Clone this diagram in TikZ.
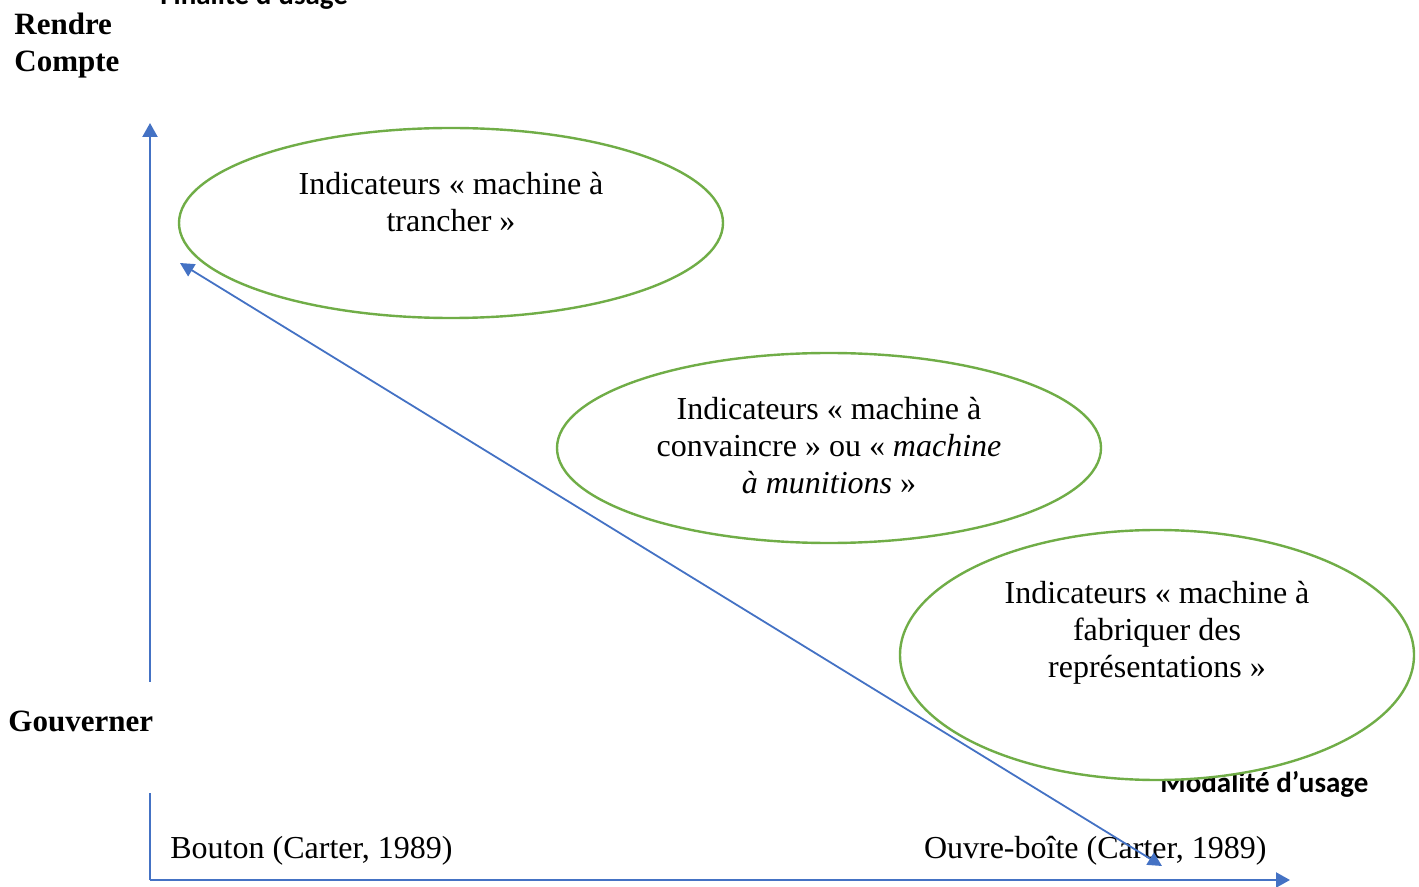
\documentclass[tikz,border=0pt]{standalone}
\usepackage{fontspec}
\setmainfont{Liberation Serif}
\newfontfamily\calibri{Carlito}
\usetikzlibrary{shapes.geometric, arrows.meta, positioning}
\definecolor{axeblue}{RGB}{68,114,196}
\definecolor{ovalgreen}{RGB}{112,173,71}
\tikzset{
  axe/.style={-{Triangle[length=7pt,width=7.5pt]}, line width=1.1pt, axeblue},
  diag/.style={{Triangle[length=7pt,width=7pt]}-{Triangle[length=7pt,width=7pt]}, line width=0.9pt, axeblue},
  oval/.style={ellipse, draw=ovalgreen, line width=1.2pt, fill=white, inner sep=0pt},
  ovaltext/.style={align=center, inner sep=0pt, font=\fontsize{16}{18.5}\selectfont},
  titre/.style={align=left, inner sep=0pt, font=\bfseries\fontsize{15.5}{18.5}\selectfont},
  axelabel/.style={inner sep=0pt, font=\calibri\bfseries\fontsize{14.5}{17}\selectfont},
  source/.style={inner sep=0pt, font=\fontsize{16}{18.5}\selectfont}
}

\begin{document}
\begin{tikzpicture}[x=0.5pt, y=-0.5pt]
\useasboundingbox (0,0) rectangle (1419,887);
\clip (0,0) rectangle (1419,887);

% axes
\coordinate (origine) at (150,880);
\coordinate (haut) at (150,123);
\coordinate (droite) at (1290,880);
\draw[axe] (origine) -- (haut);
\draw[axe] (origine) -- (droite);

% axis labels
\node[titre, anchor=base west] (rendre) at (14,72) {Rendre\\Compte};
\node[axelabel, anchor=base west] (finalite) at (160,5) {Finalité d’usage};
\node[titre, anchor=base west, fill=white, inner xsep=4pt, text height=24.5pt, text depth=31pt] (gouverner) at (0,731) {Gouverner};
\node[axelabel, anchor=base west] (modalite) at (1160,792) {Modalité d’usage};
\node[source, anchor=base west] (bouton) at (170,858) {Bouton (Carter, 1989)};
\node[source, anchor=base east] (ouvre) at (1267,858) {Ouvre-boîte (Carter, 1989)};

% ellipses
\node[oval, minimum width=272pt, minimum height=95pt] (trancher) at (451,223) {};
\node[oval, minimum width=272pt, minimum height=95pt] (convaincre) at (829,448) {};
\node[oval, minimum width=257pt, minimum height=125pt] (fabriquer) at (1157,655) {};
\node[ovaltext] (t-trancher) at (451,202) {Indicateurs « machine à\\trancher »};
\node[ovaltext] (t-convaincre) at (829,446) {Indicateurs « machine à\\convaincre » ou « \textit{machine}\\\textit{à munitions} »};
\node[ovaltext] (t-fabriquer) at (1157,633) {Indicateurs « machine à\\fabriquer des\\représentations »};

% diagonal
\coordinate (diag-haut) at (180,263);
\coordinate (diag-bas) at (1162,866);
\draw[diag] (diag-haut) -- (diag-bas);
\end{tikzpicture}
\end{document}
